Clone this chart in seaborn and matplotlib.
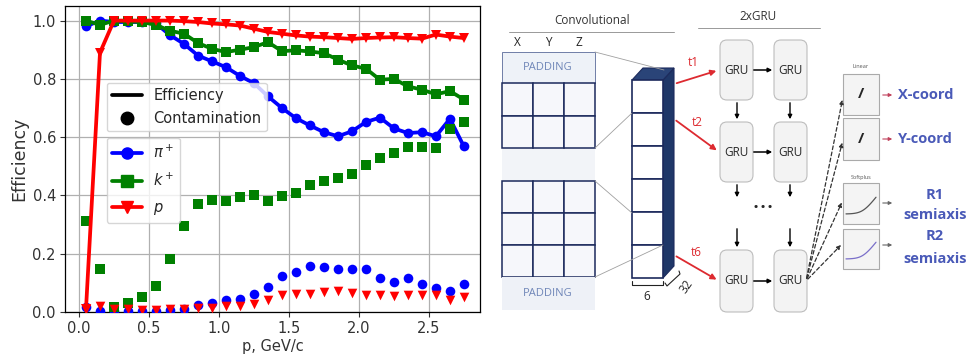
import numpy as np
import pandas as pd
import matplotlib
matplotlib.use("Agg")
import matplotlib.pyplot as plt
import seaborn as sns
from matplotlib.lines import Line2D
from matplotlib.patches import Rectangle, Polygon, FancyBboxPatch

# ---------------------------
# Data
# ---------------------------
p = [0.05, 0.15, 0.25, 0.35, 0.45, 0.55, 0.65, 0.75, 0.85, 0.95,
     1.05, 1.15, 1.25, 1.35, 1.45, 1.55, 1.65, 1.75, 1.85, 1.95,
     2.05, 2.15, 2.25, 2.35, 2.45, 2.55, 2.65, 2.75]

pi_eff = [0.98, 1.0, 0.995, 0.995, 0.995, 0.99, 0.95, 0.92, 0.88, 0.86,
          0.84, 0.81, 0.785, 0.74, 0.70, 0.665, 0.64, 0.617, 0.603, 0.62,
          0.652, 0.667, 0.63, 0.614, 0.617, 0.603, 0.663, 0.568]
k_eff = [1.0, 0.985, 1.0, 0.997, 0.995, 0.985, 0.965, 0.955, 0.923, 0.903,
         0.892, 0.90, 0.909, 0.926, 0.895, 0.898, 0.894, 0.888, 0.866, 0.846,
         0.835, 0.797, 0.80, 0.774, 0.763, 0.747, 0.758, 0.729]
p_eff = [0.01, 0.89, 1.0, 1.0, 1.0, 1.0, 1.0, 0.998, 0.995, 0.99,
         0.987, 0.983, 0.972, 0.961, 0.955, 0.949, 0.945, 0.943, 0.94, 0.937,
         0.94, 0.942, 0.943, 0.94, 0.938, 0.952, 0.945, 0.94]

pi_cont = [0.017, 0.005, 0.004, 0.004, 0.004, 0.005, 0.006, 0.01, 0.023, 0.031,
           0.04, 0.046, 0.061, 0.086, 0.122, 0.137, 0.158, 0.154, 0.146, 0.146,
           0.146, 0.115, 0.103, 0.118, 0.097, 0.084, 0.072, 0.095]
k_cont = [0.312, 0.149, 0.017, 0.031, 0.052, 0.089, 0.181, 0.295, 0.372, 0.386,
          0.381, 0.393, 0.40, 0.381, 0.397, 0.408, 0.435, 0.449, 0.46, 0.475,
          0.503, 0.53, 0.547, 0.566, 0.566, 0.563, 0.629, 0.652]
p_cont = [0.012, 0.02, 0.01, 0.01, 0.008, 0.008, 0.01, 0.01, 0.015, 0.015,
          0.02, 0.022, 0.029, 0.042, 0.057, 0.063, 0.063, 0.069, 0.072, 0.065,
          0.057, 0.057, 0.054, 0.057, 0.06, 0.057, 0.042, 0.05]

species = [r"$\pi^+$", r"$k^+$", r"$p$"]
colors = ["blue", "green", "red"]
markers = ["o", "s", "v"]

sns.set_style("ticks")
plt.rcParams["font.family"] = ["DejaVu Sans"]

fig = plt.figure(figsize=(9.69, 3.56), dpi=100)
ax = fig.add_axes([65 / 969, 44 / 356, 415 / 969, 306 / 356])

# ---------------------------
# Efficiency (lines) and contamination (markers)
# ---------------------------
for eff, cont, c, m in zip([pi_eff, k_eff, p_eff], [pi_cont, k_cont, p_cont], colors, markers):
    sns.lineplot(x=p, y=eff, color=c, marker=m, markersize=7, markeredgewidth=0,
                 linewidth=2.7, ax=ax, zorder=3)
    sns.scatterplot(x=p, y=cont, color=c, marker=m, s=48, linewidth=0, ax=ax, zorder=3)

ax.set_xlim(-0.1, 2.865)
ax.set_ylim(0, 1.05)
ax.set_xticks([0.0, 0.5, 1.0, 1.5, 2.0, 2.5])
ax.set_yticks([0.0, 0.2, 0.4, 0.6, 0.8, 1.0])
ax.grid(True, color="#b0b0b0", linewidth=0.9)
ax.tick_params(labelsize=10.5, colors="#333333", labelcolor="#333333", pad=3)
for s in ax.spines.values():
    s.set_color("black")
    s.set_linewidth(0.9)
ax.set_xlabel("p, GeV/c", fontsize=10.5, color="#333333", labelpad=2)
ax.set_ylabel("Efficiency", fontsize=12.5, color="#333333", labelpad=3)

kind_handles = [Line2D([], [], color="black", linewidth=2.7),
                Line2D([], [], color="black", marker="o", linestyle="none", markersize=9)]
leg1 = ax.legend(kind_handles, ["Efficiency", "Contamination"], loc="upper left",
                 bbox_to_anchor=(0.1, 0.75), fontsize=10.5, borderaxespad=0)
ax.add_artist(leg1)
sp_handles = [Line2D([], [], color=c, marker=m, linewidth=2.7, markersize=8)
              for c, m in zip(colors, markers)]
ax.legend(sp_handles, species, loc="upper left", bbox_to_anchor=(0.1, 0.57),
          fontsize=10.5, borderaxespad=0, labelspacing=0.75)

# ---------------------------
# Network diagram (pixel coordinates of the figure)
# ---------------------------
dx = fig.add_axes([490 / 969, 0, 479 / 969, 1])
dx.set_xlim(490, 969)
dx.set_ylim(356, 0)
dx.axis("off")
font = ["Open Sans", "DejaVu Sans"]
navy = "#1c2a5c"

dx.text(592, 20, "Convolutional", ha="center", va="center", fontsize=8.5, family=font, color="#333333")
dx.plot([509, 674], [32, 32], color="#999999", lw=0.7)
for x, t in zip([517, 548, 579], ["X", "Y", "Z"]):
    dx.text(x, 43, t, ha="center", va="center", fontsize=8.5, family=font, color="#222222")

cols = [502, 533, 564, 595]
dx.add_patch(Rectangle((502, 52), 93, 31, fc="#eef2f8", ec="#5a6a9a", lw=0.6))
dx.text(548, 68, "PADDING", ha="center", va="center", fontsize=8, family=font, color="#6f86b8")
dx.add_patch(Rectangle((502, 148), 93, 33, fc="#f2f4f8", ec="none"))
for y0, y1 in [(83, 116), (116, 148), (181, 213), (213, 245), (245, 277)]:
    for i in range(3):
        dx.add_patch(Rectangle((cols[i], y0), cols[i + 1] - cols[i], y1 - y0,
                               fc="#f6f7fb", ec=navy, lw=1.1))
dx.add_patch(Rectangle((502, 277), 93, 33, fc="#eef1f7", ec="none"))
dx.text(548, 293, "PADDING", ha="center", va="center", fontsize=8, family=font, color="#6f86b8")

for (x0, y0), (x1, y1) in [((595, 52), (664, 70)), ((595, 148), (632, 113)),
                           ((595, 181), (632, 213)), ((595, 277), (663, 245))]:
    dx.plot([x0, x1], [y0, y1], color="#a0a0a0", lw=0.6)

# 3D column
dx.add_patch(Polygon([(663, 80), (674, 68), (674, 266), (663, 278)], closed=True, fc="#1f3768", ec=navy, lw=0.8))
dx.add_patch(Polygon([(632, 80), (643, 68), (674, 68), (663, 80)], closed=True, fc="#2a4478", ec=navy, lw=0.8))
for i in range(6):
    dx.add_patch(Rectangle((632, 80 + 33 * i), 31, 33, fc="white", ec=navy, lw=1.2))
dx.plot([632, 632, 663, 663], [281, 285, 285, 281], color="#222222", lw=0.8)
dx.text(647, 297, "6", ha="center", va="center", fontsize=8.5, family=font)
dx.plot([665, 667, 680, 679], [283, 286, 274, 271], color="#222222", lw=0.8)
dx.text(686, 287, "32", ha="center", va="center", fontsize=8.5, family=font, rotation=55)

red = "#dd2a30"
for (x0, y0), (x1, y1), lab, (tx, ty) in [((674, 84), (719, 70), "t1", (693, 62)),
                                          ((674, 119), (719, 152), "t2", (697, 123)),
                                          ((674, 255), (719, 281), "t6", (696, 253))]:
    dx.annotate("", xy=(x1, y1), xytext=(x0, y0),
                arrowprops=dict(arrowstyle="-|>", color=red, lw=1.3, mutation_scale=8))
    dx.text(tx, ty, lab, ha="center", va="center", fontsize=8.5, family=font, color=red)

# GRU stack
dx.text(758, 16, "2xGRU", ha="center", va="center", fontsize=8.5, family=font, color="#333333")
dx.plot([698, 820], [28, 28], color="#999999", lw=0.7)
rows = [(40, 100), (122, 182), (250, 312)]
for y0, y1 in rows:
    for x0 in [720, 774]:
        dx.add_patch(FancyBboxPatch((x0, y0), 33, y1 - y0, boxstyle="round,pad=0,rounding_size=7",
                                    fc="#f3f3f3", ec="#bdbdbd", lw=0.8))
        dx.text(x0 + 16.5, (y0 + y1) / 2, "GRU", ha="center", va="center", fontsize=8.5, family=font)
    dx.annotate("", xy=(775, (y0 + y1) / 2), xytext=(751, (y0 + y1) / 2),
                arrowprops=dict(arrowstyle="-|>", color="black", lw=1.1, mutation_scale=6))
for x in [737, 790]:
    for y0, y1 in [(100, 122), (182, 200), (226, 250)]:
        dx.annotate("", xy=(x, y1), xytext=(x, y0),
                    arrowprops=dict(arrowstyle="-|>", color="black", lw=1.0, mutation_scale=6))
dx.text(763, 207, "• • •", ha="center", va="center", fontsize=8, family=font, fontweight="bold")

for ty in [97, 140, 200, 243]:
    dx.annotate("", xy=(843, ty), xytext=(806, 281),
                arrowprops=dict(arrowstyle="-|>", color="#333333", lw=0.9, linestyle=(0, (3, 2)),
                                mutation_scale=6))

# output heads
for y0, h in [(74, 41), (118, 42)]:
    dx.add_patch(Rectangle((843, y0), 36, h, fc="#f4f4f4", ec="#aaaaaa", lw=0.8))
    dx.text(861, y0 + h / 2, "/", ha="center", va="center", fontsize=11, family=font, fontweight="bold")
dx.text(861, 67, "Linear", ha="center", va="center", fontsize=4, family=font, color="#555555")
dx.text(861, 177, "Softplus", ha="center", va="center", fontsize=4, family=font, color="#555555")
u = np.linspace(-4, 3, 40)
for (y0, h), c in zip([(183, 41), (229, 40)], ["#555555", "#7a6fc9"]):
    dx.add_patch(Rectangle((843, y0), 36, h, fc="#f4f4f4", ec="#aaaaaa", lw=0.8))
    dx.plot(846 + (u + 4) / 7 * 30, y0 + h - 10 - np.logaddexp(0, u) * 5.5, color=c, lw=0.9)

for y, c in [(95, "#c0405a"), (139, "#c0405a"), (203, "#666666"), (245, "#666666")]:
    dx.annotate("", xy=(895, y), xytext=(880, y),
                arrowprops=dict(arrowstyle="-|>", color=c, lw=0.8, mutation_scale=5))
blue_txt = "#4a5ab8"
dx.text(898, 95, "X-coord", ha="left", va="center", fontsize=10.5, family=font, fontweight="bold", color=blue_txt)
dx.text(898, 139, "Y-coord", ha="left", va="center", fontsize=10.5, family=font, fontweight="bold", color=blue_txt)
for y, t in [(195, "R1"), (215, "semiaxis"), (236, "R2"), (259, "semiaxis")]:
    dx.text(935, y, t, ha="center", va="center", fontsize=10.5, family=font, fontweight="bold", color=blue_txt)

plt.savefig("out.png", dpi=100)
